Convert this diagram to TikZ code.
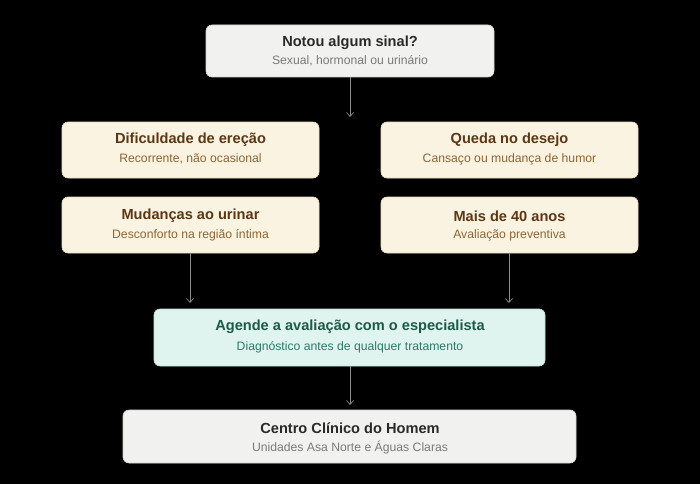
\documentclass[tikz,border=0pt]{standalone}
\usepackage{fontspec}
\setmainfont{Liberation Sans}
\usetikzlibrary{arrows.meta}
\definecolor{bgc}{HTML}{000000}
\definecolor{grayfill}{HTML}{F1F1EF}
\definecolor{graydraw}{HTML}{D6D6D2}
\definecolor{graytitle}{HTML}{2A2A2A}
\definecolor{graysub}{HTML}{7A7A7A}
\definecolor{beigefill}{HTML}{FBF3E1}
\definecolor{beigedraw}{HTML}{E8DCC0}
\definecolor{browntitle}{HTML}{5A3715}
\definecolor{brownsub}{HTML}{8A6636}
\definecolor{greenfill}{HTML}{DFF3EF}
\definecolor{greendraw}{HTML}{BFE3DA}
\definecolor{greentitle}{HTML}{1E5A47}
\definecolor{greensub}{HTML}{2E7A64}
\definecolor{arrowc}{HTML}{8C8C8C}
\tikzset{
  card/.style={rounded corners=6pt, line width=0.6pt},
  graycard/.style={card, fill=grayfill, draw=graydraw},
  beigecard/.style={card, fill=beigefill, draw=beigedraw},
  greencard/.style={card, fill=greenfill, draw=greendraw},
  ttl/.style={font=\bfseries\fontsize{14.6}{16}\selectfont, anchor=center},
  sub/.style={font=\fontsize{12.2}{14}\selectfont, anchor=center},
  conn/.style={draw=arrowc, line width=0.7pt, -{Straight Barb[length=4pt,width=7pt]}}
}
\begin{document}
\begin{tikzpicture}[x=1pt,y=-1pt]
\fill[bgc] (0,0) rectangle (700,484);
\useasboundingbox (0,0) rectangle (700,484);
% top
\draw[graycard] (206,25) rectangle (494,77);
\node[ttl, text=graytitle] (t1) at (350,43) {Notou algum sinal?};
\node[sub, text=graysub] (t2) at (350,61) {Sexual, hormonal ou urinário};
\coordinate (topb) at (350,77);
% row 1
\draw[beigecard] (62,122) rectangle (319,178);
\node[ttl, text=browntitle] (a1) at (190.5,140) {Dificuldade de ereção};
\node[sub, text=brownsub] (a2) at (190.5,159) {Recorrente, não ocasional};
\draw[beigecard] (381,122) rectangle (638,178);
\node[ttl, text=browntitle] (b1) at (509.5,140) {Queda no desejo};
\node[sub, text=brownsub] (b2) at (509.5,159) {Cansaço ou mudança de humor};
% row 2
\draw[beigecard] (62,197) rectangle (319,253);
\node[ttl, text=browntitle] (c1) at (190.5,216) {Mudanças ao urinar};
\node[sub, text=brownsub] (c2) at (190.5,235) {Desconforto na região íntima};
\draw[beigecard] (381,197) rectangle (638,253);
\node[ttl, text=browntitle] (d1) at (509.5,216) {Mais de 40 anos};
\node[sub, text=brownsub] (d2) at (509.5,235) {Avaliação preventiva};
% green
\draw[greencard] (154,309) rectangle (545,366);
\node[ttl, text=greentitle] (g1) at (350,327) {Agende a avaliação com o especialista};
\node[sub, text=greensub] (g2) at (350,347) {Diagnóstico antes de qualquer tratamento};
% bottom
\draw[graycard] (123,410) rectangle (576,463);
\node[ttl, text=graytitle] (h1) at (350,428) {Centro Clínico do Homem};
\node[sub, text=graysub] (h2) at (350,447) {Unidades Asa Norte e Águas Claras};
% connectors
\coordinate (e1) at (350,117);
\coordinate (cb) at (190,253);
\coordinate (ce) at (190,303);
\coordinate (db) at (509,253);
\coordinate (de) at (509,303);
\coordinate (gb) at (350,366);
\coordinate (ge) at (350,405);
\draw[conn] (topb) -- (e1);
\draw[conn] (cb) -- (ce);
\draw[conn] (db) -- (de);
\draw[conn] (gb) -- (ge);
\end{tikzpicture}
\end{document}
